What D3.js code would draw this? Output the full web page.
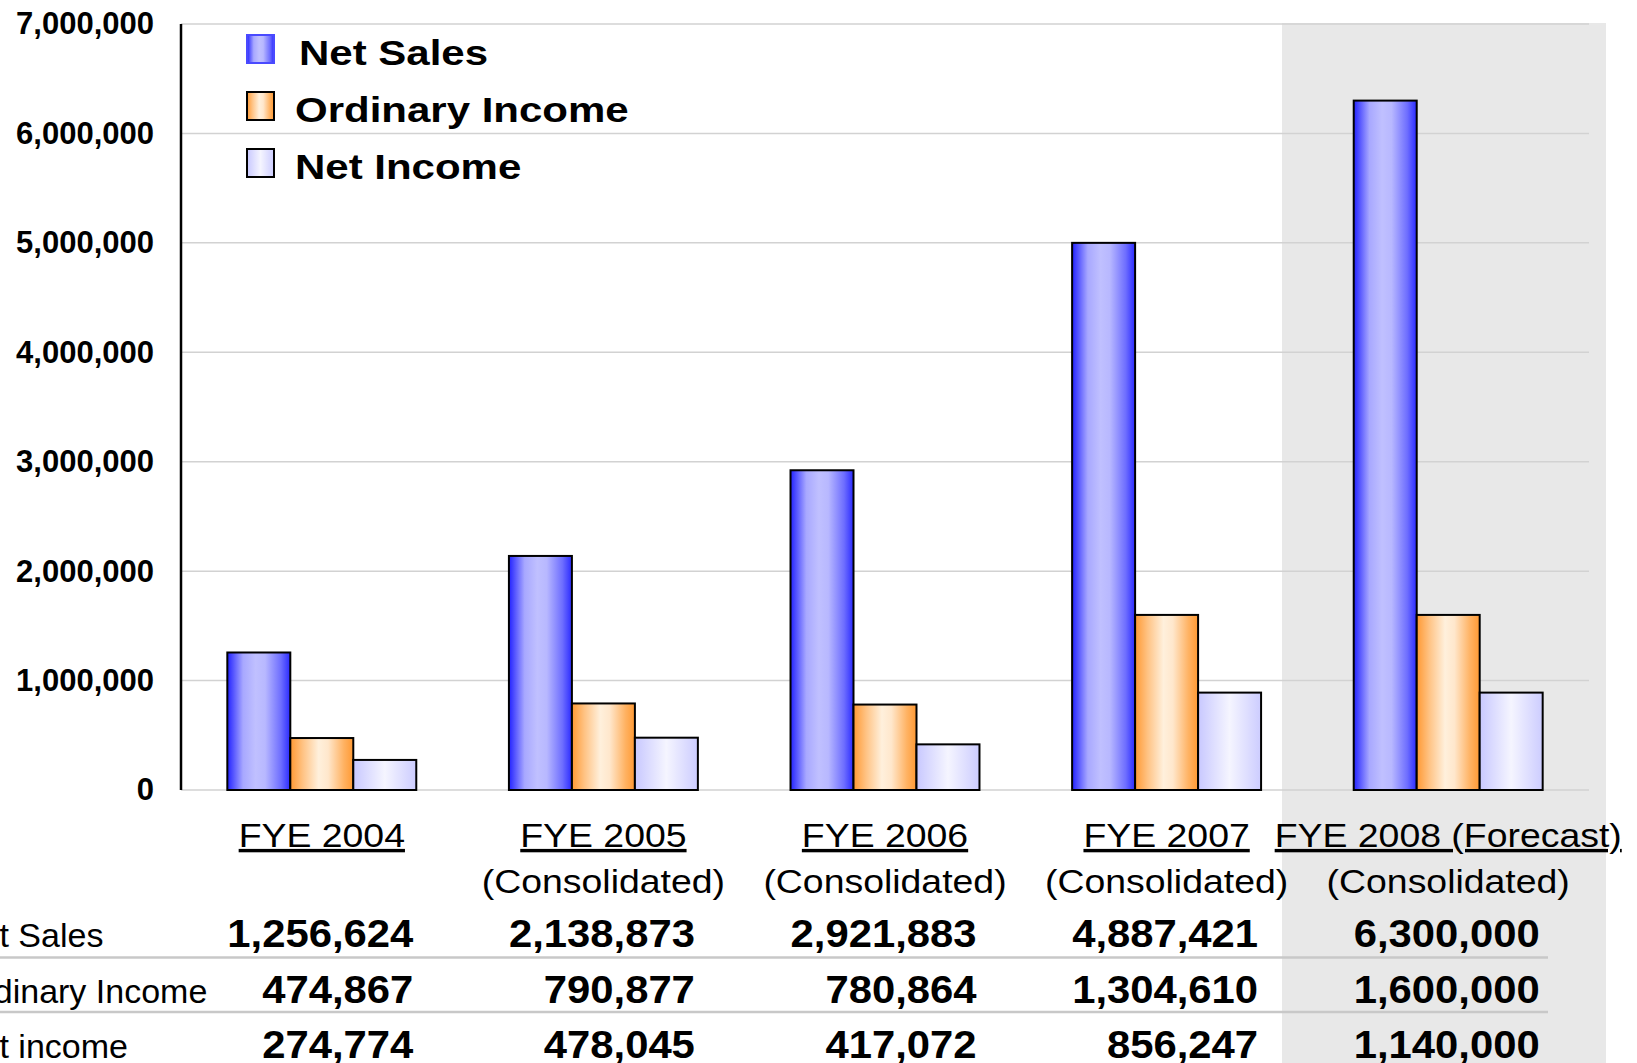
<!DOCTYPE html>
<meta charset="utf-8">
<script src="https://d3js.org/d3.v7.min.js"></script>
<style>
  body { margin: 0; background: #fff; overflow: hidden; }
  svg { display: block; font-family: "Liberation Sans", Arial, sans-serif; }
</style>
<body></body>
<script>

// data
var years = ["FYE 2004", "FYE 2005", "FYE 2006", "FYE 2007", "FYE 2008 (Forecast)"];
var subtitles = ["", "(Consolidated)", "(Consolidated)", "(Consolidated)", "(Consolidated)"];
var seriesNames = ["Net Sales", "Ordinary Income", "Net Income"];
var rowLabels = ["Net Sales", "Ordinary Income", "Net income"];

// bar heights as drawn
var netSales = [1256624, 2138873, 2921883, 5000000, 6300000];
var ordinaryIncome = [474867, 790877, 780864, 1600000, 1600000];
var netIncome = [274774, 478045, 417072, 890000, 890000];

// numbers printed in the table
var netSalesText = ["1,256,624", "2,138,873", "2,921,883", "4,887,421", "6,300,000"];
var ordinaryIncomeText = ["474,867", "790,877", "780,864", "1,304,610", "1,600,000"];
var netIncomeText = ["274,774", "478,045", "417,072", "856,247", "1,140,000"];

var yTicks = [0, 1000000, 2000000, 3000000, 4000000, 5000000, 6000000, 7000000];

var W = 1637, H = 1063;
var plot = {left: 181, right: 1589, top: 24, bottom: 790};

var svg = d3.select("body").append("svg")
    .attr("width", W)
    .attr("height", H);

// gradients
var defs = svg.append("defs");
var grads = [
  {id: "g0", stops: [[0, "#2222ff"], [0.25, "#a8a8ff"], [0.45, "#c0c0ff"], [0.6, "#b8b8ff"], [0.85, "#6e6eff"], [1, "#2a2aff"]]},
  {id: "g1", stops: [[0, "#ff9933"], [0.2, "#ffc384"], [0.45, "#fff0dc"], [0.6, "#ffe7cc"], [0.85, "#ffb262"], [1, "#ff9933"]]},
  {id: "g2", stops: [[0, "#c8c8ff"], [0.5, "#f5f5ff"], [1, "#ccccff"]]}
];
grads.forEach(function(g) {
  var lg = defs.append("linearGradient").attr("id", g.id)
    .attr("x1", 0).attr("x2", 1).attr("y1", 0).attr("y2", 0);
  g.stops.forEach(function(s) {
    lg.append("stop").attr("offset", s[0]).attr("stop-color", s[1]);
  });
});

// scales
var x0 = d3.scaleBand()
  .domain(years)
  .range([plot.left, plot.right])
  .paddingInner(0.329)
  .paddingOuter(0.1645);

var x1 = d3.scaleBand()
  .domain(seriesNames)
  .range([0, x0.bandwidth()]);

var y = d3.scaleLinear()
  .domain([0, 7000000])
  .range([plot.bottom, plot.top]);

// forecast shading
svg.append("rect")
  .attr("x", 1282).attr("y", 23)
  .attr("width", 324).attr("height", H - 23)
  .attr("fill", "#e8e8e8");

// gridlines
svg.append("g").selectAll("line")
  .data(yTicks)
  .enter().append("line")
  .attr("x1", plot.left).attr("x2", plot.right)
  .attr("y1", d => y(d)).attr("y2", d => y(d))
  .attr("stroke", "#d2d2d2")
  .attr("stroke-width", 1.5);

// y axis
var yAxis = d3.axisLeft(y)
  .tickValues(yTicks)
  .tickFormat(d3.format(","))
  .tickSize(0)
  .tickPadding(27);

var yAxisGroup = svg.append("g")
  .attr("transform", `translate(${plot.left},0)`)
  .call(yAxis)
  .attr("font-family", null);
yAxisGroup.select(".domain").remove();
yAxisGroup.selectAll("text")
  .style("font-size", "31px")
  .style("font-weight", "bold")
  .attr("fill", "#000");

svg.append("line")
  .attr("x1", plot.left).attr("x2", plot.left)
  .attr("y1", plot.top).attr("y2", plot.bottom)
  .attr("stroke", "#000").attr("stroke-width", 2.5);

// bars
var barSeries = [netSales, ordinaryIncome, netIncome];
var barData = [];
years.forEach(function(yr, i) {
  seriesNames.forEach(function(s, j) {
    barData.push({year: yr, series: s, idx: j, value: barSeries[j][i]});
  });
});

svg.append("g").selectAll("rect")
  .data(barData)
  .enter().append("rect")
  .attr("x", d => x0(d.year) + x1(d.series))
  .attr("y", d => y(d.value))
  .attr("width", x1.bandwidth())
  .attr("height", d => y(0) - y(d.value))
  .attr("fill", d => "url(#g" + d.idx + ")")
  .attr("stroke", "#000")
  .attr("stroke-width", 2);

// legend
var legend = svg.append("g");
var legendItems = legend.selectAll("g")
  .data(seriesNames)
  .enter().append("g")
  .attr("transform", (d, i) => `translate(247,${35 + i * 57})`);

legendItems.append("rect")
  .attr("width", 27).attr("height", 28)
  .attr("fill", (d, i) => "url(#g" + i + ")")
  .attr("stroke", (d, i) => i == 0 ? "#4a4aff" : "#000")
  .attr("stroke-width", 2);

legendItems.append("text")
  .attr("transform", (d, i) => `translate(${i == 0 ? 52 : 48},30) scale(1.2,1)`)
  .style("font-size", "35px")
  .style("font-weight", "bold")
  .text(d => d);

// header labels under the chart
var headers = svg.append("g");
years.forEach(function(yr, i) {
  var cx = x0(yr) + x0.bandwidth() / 2;
  headers.append("text")
    .attr("transform", `translate(${cx},847) scale(1.1,1)`)
    .attr("text-anchor", "middle")
    .style("font-size", "34px")
    .style("text-decoration", "underline")
    .text(yr);
  headers.append("text")
    .attr("transform", `translate(${cx},893) scale(1.1,1)`)
    .attr("text-anchor", "middle")
    .style("font-size", "34px")
    .text(subtitles[i]);
});

// table rows
var rowTexts = [netSalesText, ordinaryIncomeText, netIncomeText];
var rowBase = [947, 1003, 1058];

svg.append("g").selectAll("line")
  .data([957.5, 1012])
  .enter().append("line")
  .attr("x1", 0).attr("x2", 1548)
  .attr("y1", d => d).attr("y2", d => d)
  .attr("stroke", "#c8c8c8")
  .attr("stroke-width", 2.5);

var table = svg.append("g");
rowLabels.forEach(function(lab, r) {
  table.append("text")
    .attr("x", -44).attr("y", rowBase[r])
    .style("font-size", "34px")
    .text(lab);
  years.forEach(function(yr, i) {
    var rx = x0(yr) + x0.bandwidth() - 3;
    table.append("text")
      .attr("transform", `translate(${rx},${rowBase[r]}) scale(1.1,1)`)
      .attr("text-anchor", "end")
      .style("font-size", "38px")
      .style("font-weight", "bold")
      .text(rowTexts[r][i]);
  });
});

</script>
